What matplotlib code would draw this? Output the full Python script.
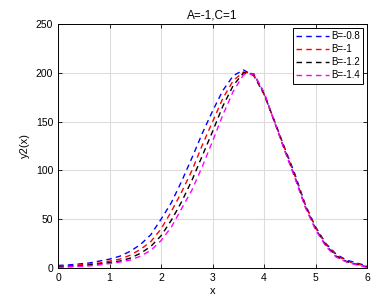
import numpy as np
import matplotlib
matplotlib.use('Agg')
import matplotlib.pyplot as plt

plt.rcParams['font.family'] = ['Liberation Sans', 'DejaVu Sans']

x = [0.0, 0.2, 0.4, 0.6, 0.8, 1.0, 1.2, 1.4, 1.6, 1.8, 2.0, 2.2, 2.4, 2.6, 2.8, 3.0,
     3.2, 3.4, 3.6, 3.8, 4.0, 4.2, 4.4, 4.6, 4.8, 5.0, 5.2, 5.4, 5.6, 5.8, 6.0]

y_b08 = [2.5, 3, 4, 5, 7, 9, 12, 17, 24, 34, 50, 67, 89, 113, 138, 161,
         182, 197, 203, 197, 178, 151, 123, 96, 65, 42, 25, 14, 8, 5, 2]
y_b10 = [1.5, 2, 3, 4, 5, 7, 9, 13, 19, 27, 40, 58, 78, 100, 126, 150,
         174, 192, 201, 198, 178, 150, 122, 94, 64, 41, 24, 13, 7, 4, 1.5]
y_b12 = [1, 1.5, 2, 3, 4, 5.5, 7, 10, 15, 22, 33, 49, 68, 90, 115, 140,
         166, 187, 200, 199, 179, 150, 121, 93, 63, 40, 23, 12, 6.5, 3.5, 1]
y_b14 = [0.5, 1, 1.5, 2, 3, 4.5, 6, 8, 12, 18, 28, 42, 61, 80, 104, 130,
         157, 181, 198, 199, 180, 150, 120, 92, 62, 39, 22, 11, 6, 3, 0.5]

labels = ['B=-0.8', 'B=-1', 'B=-1.2', 'B=-1.4']
colors = ['blue', 'red', 'black', 'magenta']

fig = plt.figure(figsize=(3.8, 3.01), dpi=100)
ax = fig.add_axes([0.153, 0.110, 0.813, 0.810])

for ys, lab, c in zip([y_b08, y_b10, y_b12, y_b14], labels, colors):
    ax.plot(x, ys, color=c, linestyle=(0, (4, 3)), linewidth=1.0, label=lab)

ax.set_xlim(0, 6)
ax.set_ylim(0, 250)
ax.set_xticks(range(0, 7))
ax.set_yticks(range(0, 251, 50))
ax.grid(True, color='#dddddd', linewidth=0.8)
ax.tick_params(direction='in', top=True, right=True, labelsize=7.5, length=3, width=0.6)
for s in ax.spines.values():
    s.set_linewidth(0.7)

ax.set_xlabel('x', fontsize=8, labelpad=2)
ax.set_ylabel('y2(x)', fontsize=8, labelpad=4)
ax.set_title('A=-1,C=1', fontsize=8.5, pad=4)

leg = ax.legend(loc='upper right', fontsize=7, handlelength=3.4, handletextpad=0.2,
                borderpad=0.35, labelspacing=0.3, fancybox=False, framealpha=1,
                borderaxespad=0.4)
leg.get_frame().set_edgecolor('black')
leg.get_frame().set_linewidth(0.7)

fig.savefig('out.png', dpi=100)
